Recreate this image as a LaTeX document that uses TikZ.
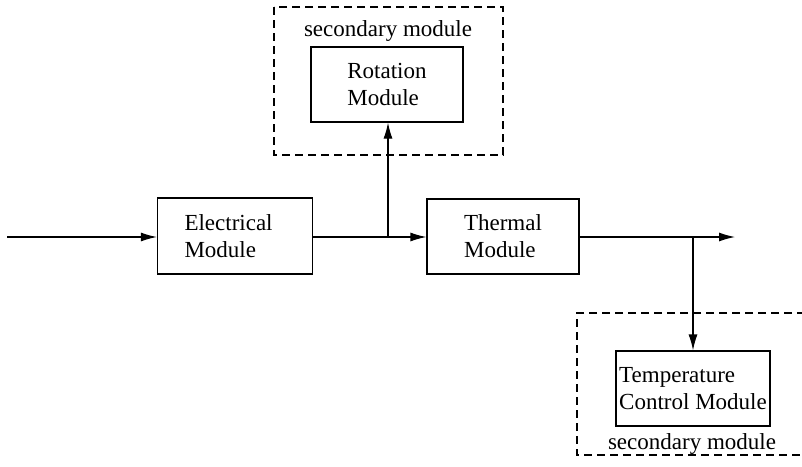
\documentclass[tikz,border=0pt]{standalone}
\usepackage{fontspec}
\setmainfont{Liberation Serif}
\usetikzlibrary{arrows.meta}
\begin{document}
\begin{tikzpicture}[x=0.5pt,y=-0.5pt,
  font=\fontsize{11.5}{13.5}\selectfont,
  line width=0.6pt,
  modbox/.style={draw, rectangle, align=left, inner sep=0pt},
  group/.style={draw, dash pattern=on 4pt off 2.5pt, line width=0.55pt},
  flow/.style={-{Latex[length=8pt,width=4.5pt]}},
  lbl/.style={inner sep=0pt, anchor=base}]
\useasboundingbox (0,0) rectangle (802,466);
\begin{scope}
\clip (0,0) rectangle (802,466);
% dashed groups for secondary modules
\draw[group] (274,7) rectangle (503,155);
\draw[group] (805,313) -- (577,313) -- (577,455) -- (805,455);
\end{scope}
\node[lbl] (toplbl) at (388,36) {secondary module};
\node[lbl] (botlbl) at (692,449) {secondary module};
% modules
\node[modbox, inner xsep=13.5pt, text width=50.5pt, minimum height=38pt] (elec) at (235,236) {Electrical\\Module};
\node[modbox, minimum width=76pt, minimum height=37.5pt] (therm) at (503,236.5) {Thermal\\Module};
\node[modbox, minimum width=76pt, minimum height=37.5pt] (rot) at (387,84.5) {Rotation\\Module};
\node[modbox, minimum width=77pt, minimum height=37.5pt] (temp) at (693,388.5) {Temperature\\Control Module};
% connectors
\coordinate (in) at (7,237);
\coordinate (out) at (735,237);
\coordinate (split1) at (388,237);
\coordinate (split2) at (693,237);
\draw[flow] (in) -- (in -| elec.west);
\draw (elec.east |- split1) -- (split1);
\draw[flow] (split1) -- (therm.west |- split1);
\draw[flow] (split1) -- (split1 |- rot.south);
\draw[flow] (therm.east |- out) -- (out);
\draw[flow] (split2) -- (split2 |- temp.north);
\end{tikzpicture}
\end{document}
